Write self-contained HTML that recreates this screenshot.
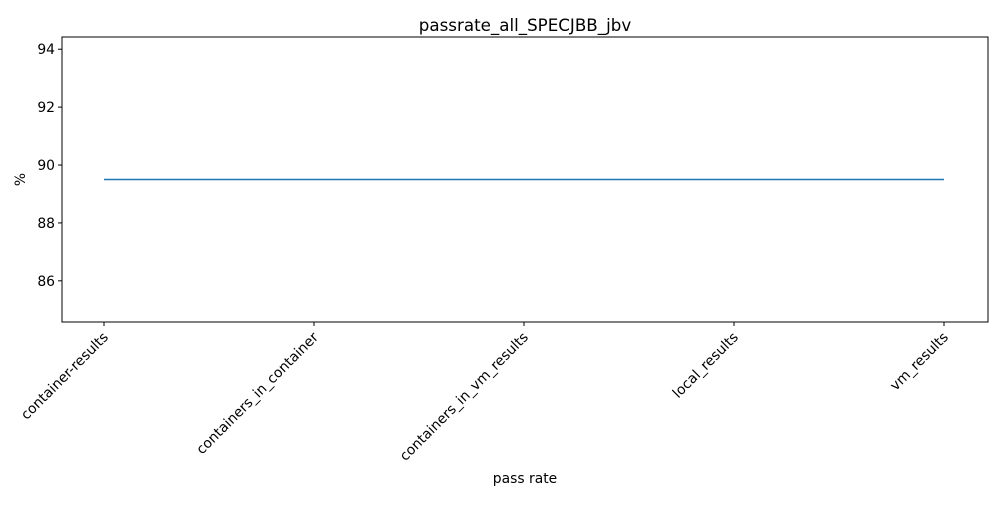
<!DOCTYPE html>
<html><head><meta charset="utf-8"><style>
body{margin:0;background:#fff;font-family:"Liberation Sans","DejaVu Sans",sans-serif}
svg text{font-family:"DejaVu Sans","Liberation Sans",sans-serif}
</style></head><body>
<svg id="chart" width="1000" height="500" xmlns="http://www.w3.org/2000/svg"></svg>
<script>
const categories = ["container-results","containers_in_container","containers_in_vm_results","local_results","vm_results"];
const values = [89.5, 89.5, 89.5, 89.5, 89.5];
const yTicks = [86, 88, 90, 92, 94];
const chartTitle = "passrate_all_SPECJBB_jbv";
const xTitle = "pass rate";
const yTitle = "%";

const L=62,R=988,T=37,B=322;
const yMin=84.5775,yMax=94.4225;
const y=v=>B-(v-yMin)/(yMax-yMin)*(B-T);
const x=i=>104+i*(944-104)/(categories.length-1);
const svg=document.getElementById('chart');
const NS="http://www.w3.org/2000/svg";
function mk(tag,attrs,text){const e=document.createElementNS(NS,tag);for(const k in attrs)e.setAttribute(k,attrs[k]);if(text!==undefined)e.textContent=text;svg.appendChild(e);return e;}

let t=mk('text',{x:(L+R)/2,y:31,'text-anchor':'middle','font-size':'16.7'},chartTitle);



yTicks.forEach(v=>{
  const tk=mk('line',{x1:L-4,x2:L,y1:y(v),y2:y(v),stroke:'#000','stroke-width':1});
  
  
  const lb=mk('text',{x:L-7,y:y(v)+5,'text-anchor':'end','font-size':'13.9'},String(v));
  
  
});
categories.forEach((c,i)=>{
  const tk=mk('line',{x1:x(i),x2:x(i),y1:B,y2:B+4,stroke:'#000','stroke-width':1});
  
  
  const lb=mk('text',{x:x(i)+5,y:B+16,'text-anchor':'end','font-size':'13.9',transform:`rotate(-45 ${x(i)+5} ${B+16})`},c);
  
  
});
const pts=values.map((v,i)=>x(i)+','+y(v)).join(' ');
const ln=mk('polyline',{points:pts,fill:'none',stroke:'#1f77b4','stroke-width':1.5});


const fr=mk('rect',{x:L,y:T,width:R-L,height:B-T,fill:'none',stroke:'#000','stroke-width':1});


const xt=mk('text',{x:(L+R)/2,y:483,'text-anchor':'middle','font-size':'13.9'},xTitle);


const yt=mk('text',{x:25,y:(T+B)/2,'text-anchor':'middle','font-size':'13.9',transform:`rotate(-90 25 ${(T+B)/2})`},yTitle);


</script>
</body></html>
